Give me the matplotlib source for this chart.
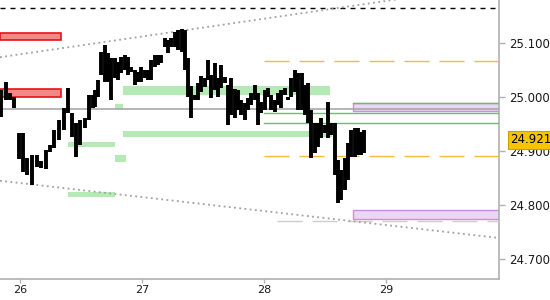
import matplotlib
matplotlib.use("Agg")
import matplotlib.pyplot as plt
from matplotlib.patches import Rectangle

# --- price bars (time in days, high / low) ---
bar_time = [25.844, 25.885, 25.918, 25.951, 25.992, 26.025, 26.057, 26.098, 26.139, 26.172,
            26.213, 26.246, 26.279, 26.320, 26.361, 26.393, 26.426, 26.459, 26.492, 26.533,
            26.566, 26.598, 26.615, 26.639, 26.664, 26.697, 26.721, 26.746, 26.779, 26.803,
            26.828, 26.861, 26.885, 26.910, 26.943, 26.967, 26.992, 27.025, 27.049, 27.074,
            27.107, 27.131, 27.156, 27.188, 27.213, 27.238, 27.270, 27.295, 27.328, 27.352,
            27.377, 27.402, 27.434, 27.459, 27.484, 27.516, 27.541, 27.566, 27.598, 27.623,
            27.648, 27.680, 27.705, 27.730, 27.762, 27.787, 27.811, 27.844, 27.869, 27.893,
            27.926, 27.951, 27.975, 28.008, 28.033, 28.057, 28.090, 28.115, 28.139, 28.172,
            28.197, 28.221, 28.254, 28.279, 28.311, 28.336, 28.361, 28.385, 28.418, 28.443,
            28.467, 28.500, 28.525, 28.549, 28.582, 28.607, 28.631, 28.664, 28.689, 28.713,
            28.746, 28.770, 28.795, 28.820]
bar_high = [25.013, 25.028, 25.008, 25.000, 24.934, 24.934, 24.887, 24.893, 24.893, 24.882,
            24.902, 24.911, 24.939, 24.958, 24.980, 25.017, 24.971, 24.952, 24.958, 24.961,
            25.004, 25.004, 25.013, 25.032, 25.084, 25.097, 25.082, 25.073, 25.073, 25.065,
            25.074, 25.078, 25.074, 25.056, 25.050, 25.047, 25.056, 25.050, 25.050, 25.069,
            25.078, 25.078, 25.078, 25.110, 25.106, 25.110, 25.121, 25.124, 25.126, 25.124,
            25.073, 25.021, 25.004, 25.026, 25.039, 25.036, 25.069, 25.041, 25.063, 25.036,
            25.060, 25.037, 25.023, 25.036, 25.015, 25.013, 24.995, 24.989, 24.999, 25.008,
            25.023, 25.008, 24.991, 25.013, 25.017, 25.004, 24.995, 25.008, 25.013, 25.017,
            25.000, 25.036, 25.050, 25.045, 25.045, 25.023, 25.026, 24.976, 24.952, 24.952,
            24.961, 24.949, 24.991, 24.952, 24.952, 24.884, 24.865, 24.887, 24.915, 24.939,
            24.943, 24.943, 24.936, 24.939]
bar_low = [24.963, 24.995, 24.995, 24.980, 24.886, 24.861, 24.856, 24.837, 24.871, 24.869,
           24.867, 24.899, 24.906, 24.921, 24.939, 24.971, 24.926, 24.889, 24.911, 24.943,
           24.958, 24.980, 24.982, 25.000, 25.041, 25.028, 25.028, 24.995, 25.036, 25.032,
           25.045, 25.050, 25.041, 25.047, 25.023, 25.028, 25.028, 25.036, 25.032, 25.032,
           25.056, 25.060, 25.063, 25.093, 25.082, 25.093, 25.093, 25.087, 25.084, 25.050,
           25.000, 24.961, 24.995, 24.995, 25.010, 25.019, 25.032, 24.999, 25.013, 25.000,
           25.017, 25.026, 24.949, 24.967, 24.961, 24.976, 24.967, 24.958, 24.976, 24.986,
           24.995, 24.949, 24.971, 24.976, 25.000, 24.976, 24.973, 24.986, 24.980, 25.004,
           24.995, 25.000, 25.010, 24.976, 24.976, 24.967, 24.952, 24.887, 24.897, 24.908,
           24.924, 24.934, 24.924, 24.930, 24.856, 24.804, 24.810, 24.828, 24.847, 24.889,
           24.889, 24.893, 24.893, 24.897]
last_price = 24.921

# --- zones ---
red_start = [25.836, 25.836]
red_end = [26.336, 26.336]
red_lo = [25.105, 25.001]
red_hi = [25.119, 25.015]

green_start = [26.844, 26.779, 26.844, 26.393, 26.779, 26.393]
green_end = [28.541, 26.844, 28.560, 26.779, 26.869, 26.779]
green_lo = [25.004, 24.978, 24.926, 24.908, 24.880, 24.815]
green_hi = [25.021, 24.987, 24.937, 24.917, 24.893, 24.824]

purple_start = 28.730
purple_lo = [24.975, 24.774]
purple_hi = [24.989, 24.791]

# --- levels ---
top_level = 25.165
pivot_level = 24.978
green_levels = [24.970, 24.952]
orange_levels = [25.067, 24.891]
grey_dash_level = 24.770
level_start = 28.0
grey_dash_start = 28.107

# trend lines (two points each)
upper_t = [25.836, 29.115]
upper_p = [25.074, 25.182]
lower_t = [25.836, 29.926]
lower_p = [24.845, 24.739]

x_min, x_max = 25.836, 29.926
y_min, y_max = 24.663, 25.180
x_ticks = [26, 27, 28, 29]
y_ticks = [24.7, 24.8, 24.9, 25.0, 25.1]

fig = plt.figure(figsize=(5.5, 3), dpi=100)
ax = fig.add_axes([0, 0.07, 499 / 550, 0.93])
ax.set_xlim(x_min, x_max)
ax.set_ylim(y_min, y_max)

for s, e, lo, hi in zip(red_start, red_end, red_lo, red_hi):
    ax.add_patch(Rectangle((s, lo), e - s, hi - lo, facecolor="#f28888",
                           edgecolor="#e8121a", lw=1.2, zorder=2))
for s, e, lo, hi in zip(green_start, green_end, green_lo, green_hi):
    ax.add_patch(Rectangle((s, lo), e - s, hi - lo, facecolor="#b5eab5",
                           edgecolor="none", zorder=1))
for lo, hi in zip(purple_lo, purple_hi):
    ax.add_patch(Rectangle((purple_start, lo), x_max - purple_start, hi - lo,
                           facecolor="#ebd6f3", edgecolor="#c98de2", lw=1, zorder=2))

ax.plot([x_min, x_max], [top_level] * 2, color="black", lw=1, ls=(0, (3.6, 3.6)), zorder=3)
ax.plot([x_min, x_max], [pivot_level] * 2, color="#a8a8a8", lw=1.2, zorder=3)
for lv in green_levels:
    ax.plot([level_start, x_max], [lv] * 2, color="#5ec85e", lw=1, zorder=3)
ax.plot([purple_start, x_max], [purple_hi[0]] * 2, color="#5ec85e", lw=1, zorder=3)
for lv in orange_levels:
    ax.plot([level_start, x_max], [lv] * 2, color="#f5b942", lw=1,
            ls=(0, (18, 7.2)), zorder=3)
ax.plot([grey_dash_start, x_max], [grey_dash_level] * 2, color="#cccccc", lw=1,
        ls=(0, (18, 7.2)), zorder=3)

ax.plot(upper_t, upper_p, color="#a0a0a0", lw=1.3, ls=(0, (1, 1.9)), zorder=3)
ax.plot(lower_t, lower_p, color="#a0a0a0", lw=1.3, ls=(0, (1, 1.9)), zorder=3)

ax.vlines(bar_time, bar_low, bar_high, color="black", lw=2.8, zorder=4)

for side in ["left", "top"]:
    ax.spines[side].set_visible(False)
for side in ["right", "bottom"]:
    ax.spines[side].set_color("#b0b0b0")
    ax.spines[side].set_linewidth(1.2)

ax.yaxis.tick_right()
ax.set_xticks(x_ticks)
ax.set_xticklabels([str(t) for t in x_ticks])
ax.set_yticks(y_ticks)
ax.set_yticklabels([f"{v:.3f}" for v in y_ticks])
ax.tick_params(axis="both", colors="#b0b0b0", labelcolor="#1a1a1a",
               labelsize=8.5, length=4, width=1)
ax.tick_params(axis="x", labelsize=8, pad=1.5, length=3)
ax.tick_params(axis="y", pad=3)

ax.annotate(f"{last_price:.3f}", xy=(1.0, last_price), xycoords=("axes fraction", "data"),
            xytext=(8, 0), textcoords="offset points", va="center", ha="left",
            fontsize=8.5, color="black", annotation_clip=False, zorder=10,
            bbox=dict(boxstyle="square,pad=0.2", facecolor="#f6c400", edgecolor="#c9a200", lw=0.8))

fig.savefig("out.png", dpi=100)
